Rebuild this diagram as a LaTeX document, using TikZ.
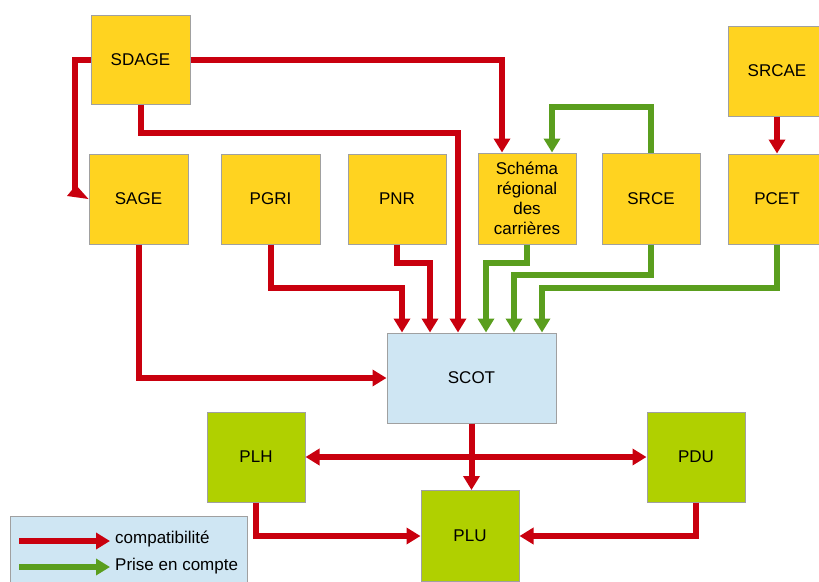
\documentclass[tikz,border=0pt]{standalone}
\usepackage{fontspec}
\setmainfont{Liberation Sans}
\usetikzlibrary{arrows.meta}
\definecolor{cred}{RGB}{201,0,14}
\definecolor{cgreen}{RGB}{90,158,30}
\definecolor{cyellow}{RGB}{255,211,32}
\definecolor{cblue}{RGB}{207,230,243}
\definecolor{clime}{RGB}{176,208,0}
\definecolor{cgray}{RGB}{160,160,160}
\tikzset{
  box/.style={draw=cgray, line width=1pt, minimum width=98pt, minimum height=90pt, inner sep=0pt, align=center,
    font=\fontsize{17}{20}\selectfont},
  ybox/.style={box, fill=cyellow},
  gbox/.style={box, fill=clime},
  bbox/.style={box, fill=cblue},
  redarrow/.style={draw=cred, line width=6pt, -{Triangle[length=14pt,width=16pt]}},
  greenarrow/.style={draw=cgreen, line width=6pt, -{Triangle[length=14pt,width=16pt]}},
  lbl/.style={anchor=west, inner sep=0pt, font=\fontsize{17}{20}\selectfont}
}
\begin{document}
\begin{tikzpicture}[x=1pt,y=-1pt]
\useasboundingbox (0,0) rectangle (819,581);
% nodes
\node[ybox, minimum width=99pt, minimum height=89pt] (sdage) at (140.5,59.5) {SDAGE};
\node[ybox, minimum width=99pt] (sage) at (138.5,199) {SAGE};
\node[ybox, minimum width=99pt] (pgri) at (270.5,199) {PGRI};
\node[ybox] (pnr) at (397,199) {PNR};
\node[ybox, minimum height=91pt] (schema) at (527,198.5) {Schéma\\régional\\des\\carrières};
\node[ybox, minimum height=91pt] (srce) at (651,198.5) {SRCE};
\node[ybox] (srcae) at (777,71) {SRCAE};
\node[ybox] (pcet) at (777,199) {PCET};
\node[bbox, minimum width=169pt] (scot) at (471.5,378) {SCOT};
\node[gbox] (plh) at (256,457) {PLH};
\node[gbox] (pdu) at (696,457) {PDU};
\node[gbox, minimum height=91pt] (plu) at (470,536) {PLU};
% corner coordinates
\coordinate (c1) at (75,192);
\coordinate (c2) at (502,60);
\coordinate (c3) at (458,133);
\coordinate (c4) at (402,288);
\coordinate (c5) at (430,263);
\coordinate (c6) at (486,263);
\coordinate (c7) at (514,275);
\coordinate (c8) at (542,288);
\coordinate (c9) at (552,107);
% red connectors
\draw[cred, line width=6pt] (sdage.west) -| (c1);
\fill[cred] (67,196) -- (76,185) -- (sage.west) -- cycle;
\draw[redarrow] (sdage.east) -| (c2 |- schema.north);
\draw[redarrow] (sdage.south) |- (c3) -- (c3 |- scot.north);
\draw[redarrow] (pgri.south) |- (c4) -- (c4 |- scot.north);
\draw[redarrow] (pnr.south) |- (c5) -- (c5 |- scot.north);
\draw[redarrow] (sage.south) |- (scot.west);
\draw[redarrow] (srcae.south) -- (pcet.north);
\draw[redarrow] (scot.south) -- (scot.south |- plu.north);
\draw[redarrow, {Triangle[length=14pt,width=16pt]}-{Triangle[length=14pt,width=16pt]}] (plh.east) -- (pdu.west);
\draw[redarrow] (plh.south) |- (plu.west);
\draw[redarrow] (pdu.south) |- (plu.east);
% green connectors
\draw[greenarrow] (schema.south) |- (c6) -- (c6 |- scot.north);
\draw[greenarrow] (srce.south) |- (c7) -- (c7 |- scot.north);
\draw[greenarrow] (pcet.south) |- (c8) -- (c8 |- scot.north);
\draw[greenarrow] (srce.north) |- (c9) -- (c9 |- schema.north);
% legend
\node[draw=cgray, line width=1pt, fill=cblue, minimum width=237pt, minimum height=75pt, inner sep=0pt] (legend) at (128.5,553.5) {};
\coordinate (l1a) at (19,541);
\coordinate (l1b) at (110,541);
\coordinate (l2a) at (19,567);
\coordinate (l2b) at (110,567);
\draw[redarrow] (l1a) -- (l1b);
\draw[greenarrow] (l2a) -- (l2b);
\node[lbl] (t1) at (115,539) {compatibilité};
\node[lbl] (t2) at (115,566) {Prise en compte};
\end{tikzpicture}
\end{document}
